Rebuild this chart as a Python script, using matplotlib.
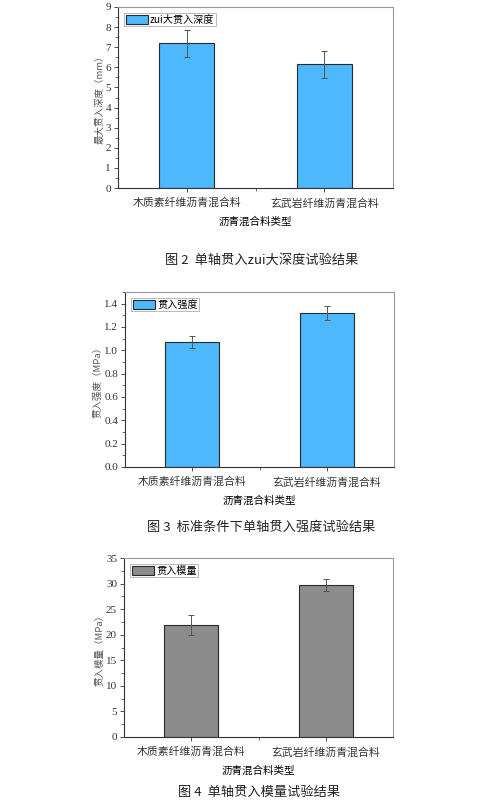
import matplotlib
matplotlib.use("Agg")
import matplotlib.pyplot as plt
from matplotlib.ticker import MultipleLocator, FixedLocator, FormatStrFormatter

plt.rcParams['font.family'] = ['Noto Sans CJK SC', 'DejaVu Sans']

categories = ['木质素纤维沥青混合料', '玄武岩纤维沥青混合料']
xlabel = '沥青混合料类型'

depth = [7.2, 6.15]
depth_err = [0.68, 0.68]
strength = [1.07, 1.32]
strength_err = [0.05, 0.057]
modulus = [21.9, 29.7]
modulus_err = [1.95, 1.2]

W, H = 498, 802
fig = plt.figure(figsize=(W / 100, H / 100), dpi=100)

def px_axes(l, t, r, b):
    return fig.add_axes([l / W, 1 - b / H, (r - l) / W, (b - t) / H])

blue = '#4DB8FB'
gray = '#8C8C8C'
serif = ['Liberation Serif', 'DejaVu Serif']

def draw(ax, vals, errs, color, legend, ylabel, ylim, major, minor, fmt):
    x = list(range(len(categories)))
    ax.bar(x, vals, width=0.4, color=color, edgecolor='#2a2a2a', linewidth=0.8,
           label=legend, zorder=2)
    ax.errorbar(x, vals, yerr=errs, fmt='none', ecolor='#555555', elinewidth=0.7,
                capsize=2.5, capthick=0.7, zorder=3)
    ax.set_xlim(-0.5, 1.5)
    ax.set_ylim(*ylim)
    ax.set_xticks(x)
    ax.set_xticklabels(categories, fontsize=7.8)
    ax.xaxis.set_minor_locator(FixedLocator([0.5]))
    ax.yaxis.set_major_locator(major)
    ax.yaxis.set_minor_locator(MultipleLocator(minor))
    ax.yaxis.set_major_formatter(FormatStrFormatter(fmt))
    for lab in ax.get_yticklabels():
        lab.set_family(serif)
        lab.set_fontsize(8)
    ax.tick_params(axis='both', which='major', direction='out', length=3, width=0.6,
                   colors='#333333', pad=2)
    ax.tick_params(axis='both', which='minor', direction='out', length=2, width=0.5,
                   colors='#333333')
    ax.tick_params(axis='x', which='major', pad=4)
    for s in ['left', 'bottom']:
        ax.spines[s].set_color('#333333')
        ax.spines[s].set_linewidth(0.8)
    for s in ['top', 'right']:
        ax.spines[s].set_color('#9a9a9a')
        ax.spines[s].set_linewidth(0.8)
    ax.set_xlabel(xlabel, fontsize=7.6, labelpad=6)
    ax.set_ylabel(ylabel, fontsize=6.8, color='#555555', labelpad=1)
    leg = ax.legend(loc='upper left', fontsize=7.3, frameon=True, fancybox=False,
                    borderpad=0.15, handlelength=2.2, handleheight=1.0,
                    handletextpad=0.2, borderaxespad=0.6)
    leg.get_frame().set_edgecolor('#9a9a9a')
    leg.get_frame().set_linewidth(0.6)

ax1 = px_axes(118, 7, 393, 188)
draw(ax1, depth, depth_err, blue, 'zui大贯入深度', '最大贯入深度（mm）', (0, 9),
     MultipleLocator(1), 0.5, '%d')
fig.text(262 / W, 1 - 260 / H, '图 2  单轴贯入zui大深度试验结果', ha='center', va='center',
         fontsize=9.5, color='#222222')

ax2 = px_axes(125, 292, 394, 467)
draw(ax2, strength, strength_err, blue, '贯入强度', '贯入强度（MPa）', (0, 1.5),
     FixedLocator([0.0, 0.2, 0.4, 0.6, 0.8, 1.0, 1.2, 1.4]), 0.1, '%.1f')
fig.text(261 / W, 1 - 527 / H, '图 3  标准条件下单轴贯入强度试验结果', ha='center', va='center',
         fontsize=9.5, color='#222222')

ax3 = px_axes(124, 558, 393, 737)
draw(ax3, modulus, modulus_err, gray, '贯入模量', '贯入模量（MPa）', (0, 35),
     MultipleLocator(5), 2.5, '%d')
fig.text(259 / W, 1 - 792 / H, '图 4  单轴贯入模量试验结果', ha='center', va='center',
         fontsize=9.5, color='#222222')

fig.savefig('out.png', dpi=100)
